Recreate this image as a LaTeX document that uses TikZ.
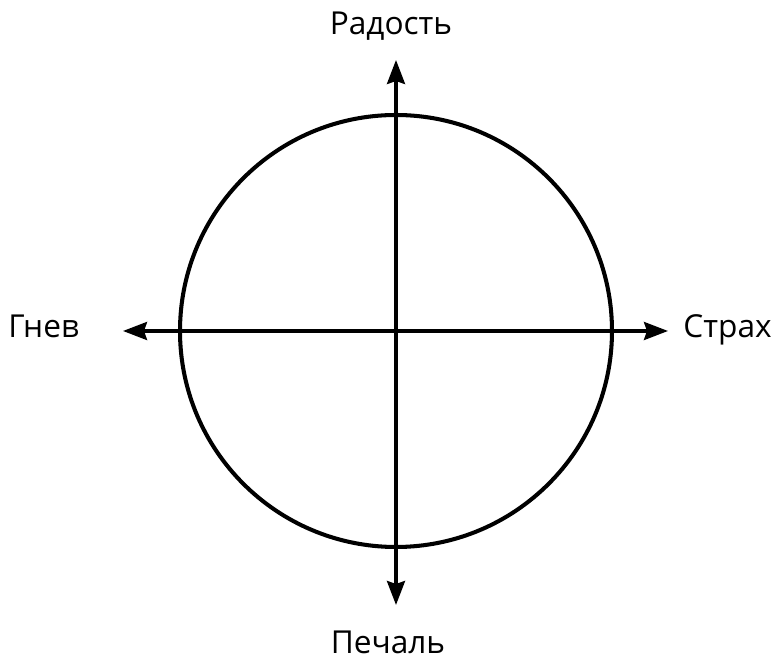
\documentclass[tikz,border=0pt]{standalone}
\usepackage{fontspec}
\setmainfont{Open Sans}
\usetikzlibrary{positioning,arrows.meta}

\begin{document}
\begin{tikzpicture}[
    lbl/.style={font=\fontsize{18}{20}\selectfont, inner sep=0pt},
    axis/.style={{Stealth[length=4.8mm, width=3.6mm, inset=0.6mm]}-{Stealth[length=4.8mm, width=3.6mm, inset=0.6mm]}, line width=1.9pt},
    ring/.style={line width=2.3pt}]
  \useasboundingbox (-7.92,-6.58) rectangle (7.58,6.62);
  % круг
  \coordinate (o) at (0,0);
  \draw[ring] (o) circle (4.32);
  % концы осей
  \coordinate (top) at (0,5.42);
  \coordinate (bot) at (0,-5.48);
  \coordinate (left) at (-5.46,0);
  \coordinate (right) at (5.44,0);
  \draw[axis] (bot) -- (top);
  \draw[axis] (left) -- (right);
  % подписи
  \node[lbl, anchor=base] (joy) at (-0.1,5.92) {Радость};
  \node[lbl, anchor=base west] (anger) at (-7.76,-0.14) {Гнев};
  \node[lbl, anchor=base east] (fear) at (7.52,-0.14) {Страх};
  \node[lbl, anchor=base] (sad) at (-0.16,-6.46) {Печаль};
\end{tikzpicture}
\end{document}
